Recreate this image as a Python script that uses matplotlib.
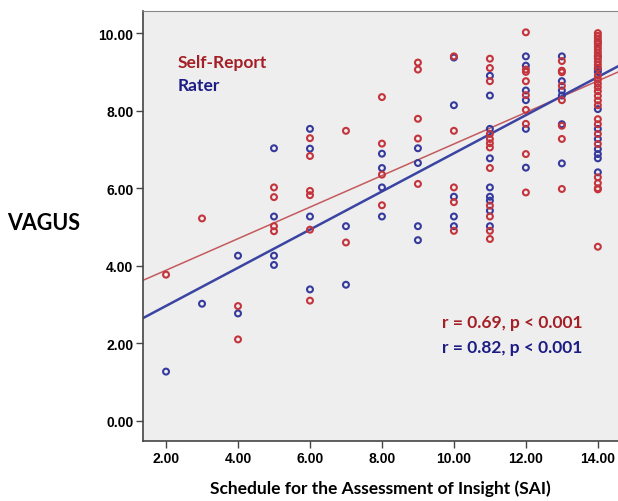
import matplotlib
matplotlib.use("Agg")
import matplotlib.pyplot as plt
import numpy as np

# ---- data ----
self_x = [2, 3, 4, 4, 5, 5, 5, 5, 6, 6, 6, 6, 6, 6, 7, 7, 8, 8, 8, 8,
          9, 9, 9, 9, 9, 10, 10, 10, 10, 10,
          11, 11, 11, 11, 11, 11, 11, 11, 11, 11, 11, 11,
          12, 12, 12, 12, 12, 12, 12, 12, 12,
          13, 13, 13, 13, 13, 13, 13, 13] + [14] * 30
self_y = [3.77, 5.22, 2.96, 2.10, 6.02, 5.77, 5.02, 4.89,
          7.29, 6.83, 5.93, 5.82, 4.93, 3.10, 7.48, 4.60,
          8.35, 7.15, 6.35, 5.56,
          9.24, 9.06, 7.79, 7.28, 6.11,
          9.40, 7.48, 6.02, 5.64, 4.90,
          9.34, 9.10, 8.76, 7.40, 7.27, 7.16, 7.05, 6.52, 5.55, 5.27, 4.90, 4.69,
          10.02, 9.06, 9.00, 8.76, 8.40, 8.02, 7.66, 6.88, 5.89,
          9.28, 9.03, 8.99, 8.64, 8.27, 7.61, 7.27, 5.98,
          10.0, 9.93, 9.86, 9.79, 9.72, 9.65, 9.58, 9.50, 9.42, 9.34,
          9.26, 9.18, 9.10, 8.90, 8.80, 8.70, 8.60, 8.50, 8.38, 8.26,
          8.14, 7.78, 7.65, 7.40, 7.14, 6.28, 6.13, 6.00, 5.97, 4.49]

rater_x = [2, 3, 4, 4, 5, 5, 5, 5, 6, 6, 6, 6, 7, 7, 8, 8, 8, 8,
           9, 9, 9, 9, 10, 10, 10, 10, 10,
           11, 11, 11, 11, 11, 11, 11, 11, 11,
           12, 12, 12, 12, 12, 12,
           13, 13, 13, 13, 13, 13] + [14] * 11
rater_y = [1.27, 3.02, 4.26, 2.77, 7.03, 5.27, 4.26, 4.02,
           7.53, 7.02, 5.27, 3.39, 5.02, 3.51,
           6.89, 6.52, 6.02, 5.27,
           7.03, 6.65, 5.02, 4.66,
           9.37, 8.14, 5.78, 5.27, 5.02,
           8.90, 8.39, 7.53, 6.77, 6.02, 5.78, 5.68, 5.42, 5.02,
           9.40, 9.16, 8.52, 8.27, 7.53, 6.53,
           9.40, 8.76, 8.52, 8.39, 7.65, 6.64,
           9.76, 9.40, 9.07, 9.00, 8.04, 7.53, 7.27, 7.01, 6.88, 6.77, 6.41]

# fit lines (intercept, slope)
self_fit = (3.07, 0.407)
rater_fit = (1.98, 0.492)

x_ticks = [2, 4, 6, 8, 10, 12, 14]
y_ticks = [0, 2, 4, 6, 8, 10]

series_names = ["Self-Report", "Rater"]
stats_labels = ["r = 0.69, p < 0.001", "r = 0.82, p < 0.001"]
x_label = "Schedule for the Assessment of Insight (SAI)"
y_label = "VAGUS"

RED = "#C4343C"
BLUE = "#353A9C"
RED_TXT = "#A31F25"
BLUE_TXT = "#1C1C85"

fig = plt.figure(figsize=(6.18, 5.02), dpi=100)
fig.patch.set_facecolor("white")
ax = fig.add_axes([143 / 618, 1 - 442 / 502, 1 - 143 / 618, (442 - 12) / 502])
ax.set_facecolor("#EEEEEE")

xlim = (1.36, 14.56)
ax.set_xlim(*xlim)
ax.set_ylim(-0.52, 10.57)

xs = np.array(xlim)
ax.plot(xs, self_fit[0] + self_fit[1] * xs, color="#C45A5E", lw=1.1, zorder=2)
ax.plot(xs, rater_fit[0] + rater_fit[1] * xs, color="#3A44A2", lw=1.8, zorder=2)

ax.scatter(rater_x, rater_y, s=18, facecolors="none", edgecolors=BLUE,
           linewidths=1.5, zorder=3)
ax.scatter(self_x, self_y, s=18, facecolors="none", edgecolors=RED,
           linewidths=1.5, zorder=4)

ax.set_xticks(x_ticks)
ax.set_yticks(y_ticks)
ax.set_xticklabels([f"{v:.2f}" for v in x_ticks])
ax.set_yticklabels([f"{v:.2f}" for v in y_ticks])
ax.tick_params(axis="both", direction="out", length=5, width=1, color="#444444",
               labelsize=10, pad=2)
for lab in ax.get_xticklabels() + ax.get_yticklabels():
    lab.set_fontweight("bold")
    lab.set_family("Liberation Sans")

for s in ["left", "bottom"]:
    ax.spines[s].set_color("#444444")
    ax.spines[s].set_linewidth(1.2)
ax.spines["top"].set_color("#888888")
ax.spines["right"].set_visible(False)

ax.set_xlabel(x_label, family="Lato", fontweight="bold", fontsize=12.5, va="center")
ax.xaxis.set_label_coords(0.5, (442 - 489) / 430)
fig.text(44 / 618, 1 - 224 / 502, y_label, family="Lato", fontweight="bold",
         fontsize=15.5, ha="center", va="center")

fig.text(178 / 618, 1 - 63 / 502, series_names[0], color=RED_TXT, family="Lato",
         fontweight="bold", fontsize=12.5, ha="left", va="center")
fig.text(178 / 618, 1 - 86 / 502, series_names[1], color=BLUE_TXT, family="Lato",
         fontweight="bold", fontsize=12.5, ha="left", va="center")

fig.text(442 / 618, 1 - 323 / 502, stats_labels[0], color=RED_TXT, family="Lato",
         fontweight="bold", fontsize=12.5, ha="left", va="center")
fig.text(442 / 618, 1 - 348 / 502, stats_labels[1], color=BLUE_TXT, family="Lato",
         fontweight="bold", fontsize=12.5, ha="left", va="center")

fig.savefig("out.png", dpi=100)
